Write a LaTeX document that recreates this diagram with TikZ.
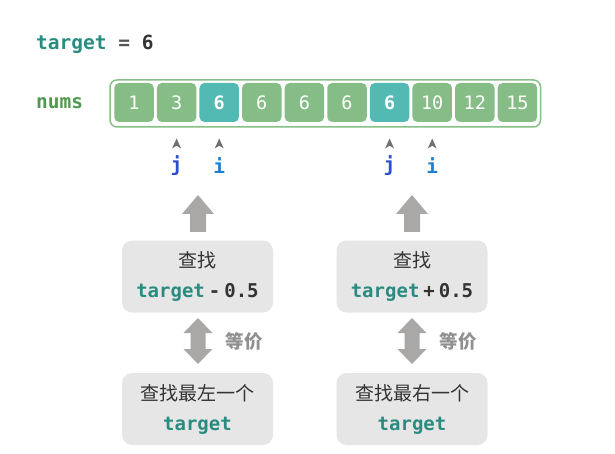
\documentclass[tikz,border=0pt]{standalone}
\usepackage{fontspec}
\setmonofont{DejaVu Sans Mono}
\newfontfamily\cjk{Noto Sans CJK SC}
\usetikzlibrary{arrows.meta,calc}
\definecolor{tealtxt}{HTML}{2A8C80}
\definecolor{greentxt}{HTML}{4E9A4E}
\definecolor{cellgreen}{HTML}{86BD86}
\definecolor{cellteal}{HTML}{52B9B3}
\definecolor{framegreen}{HTML}{86C086}
\definecolor{darktxt}{HTML}{333333}
\definecolor{eqtxt}{HTML}{555555}
\definecolor{boxgray}{HTML}{E6E6E6}
\definecolor{arrowgray}{HTML}{AAA7A7}
\definecolor{headgray}{HTML}{707070}
\definecolor{jblue}{HTML}{2B4FD0}
\definecolor{iblue}{HTML}{1E80D0}
\definecolor{labelgray}{HTML}{909090}
\begin{document}
\begin{tikzpicture}[x=1pt,y=-1pt,
  cellbox/.style={rounded corners=5pt, minimum width=39.5pt, minimum height=39pt, inner sep=0pt, text=white, font=\ttfamily\fontsize{18.5}{20}\selectfont},
  greybox/.style={fill=boxgray, rounded corners=10pt, minimum width=151pt, minimum height=72pt, inner sep=0pt, align=center, text=darktxt, font=\fontsize{19}{30}\selectfont},
  ptrhead/.style={fill=headgray},
  bigarrow/.style={fill=arrowgray},
  ptrlabel/.style={font=\ttfamily\bfseries\fontsize{19.5}{20}\selectfont}
]
\useasboundingbox (0,0) rectangle (615,454);

% target = 6
\node[anchor=west, inner sep=0pt, font=\ttfamily\bfseries\fontsize{19.5}{20}\selectfont] (tgt) at (36,44)
  {\textcolor{tealtxt}{target} \textcolor{eqtxt}{=} \textcolor{darktxt}{6}};
\node[anchor=west, inner sep=0pt, font=\ttfamily\bfseries\fontsize{19.5}{20}\selectfont, text=greentxt] (nums) at (36,103)
  {nums};

% frame
\draw[framegreen, line width=1.5pt, fill=white, rounded corners=7pt] (110,80) rectangle (540.5,127);

% cells
\foreach \v [count=\k] in {1,3,6,6,6,6,6,10,12,15} {
  \ifnum\k=3
    \node[cellbox, fill=cellteal, font=\ttfamily\bfseries\fontsize{18.5}{20}\selectfont] (c\k) at ({134+(\k-1)*42.6},102.5) {\v};
  \else\ifnum\k=7
    \node[cellbox, fill=cellteal, font=\ttfamily\bfseries\fontsize{18.5}{20}\selectfont] (c\k) at ({134+(\k-1)*42.6},102.5) {\v};
  \else
    \node[cellbox, fill=cellgreen] (c\k) at ({134+(\k-1)*42.6},102.5) {\v};
  \fi\fi
}

% pointer heads and labels
\foreach \k/\lab/\col in {2/j/jblue, 3/i/iblue, 7/j/jblue, 8/i/iblue} {
  \path (c\k.center) coordinate (h\k);
  \fill[ptrhead] ($(h\k)+(0,36)$) -- ++(4.5,10) -- ++(-4.5,-2.8) -- ++(-4.5,2.8) -- cycle;
  \node[ptrlabel, text=\col, inner sep=0pt] (l\k) at ($(h\k)+(0,63.5)$) {\lab};
}

% boxes
\node[greybox] (b1) at (197.5,276.5) {{\cjk 查找}\\
  {\ttfamily\bfseries\textcolor{tealtxt}{target}\hspace{4pt}\textcolor{darktxt}{-\hspace{4pt}0.5}}};
\node[greybox] (b2) at (197.5,409) {{\cjk 查找最左一个}\\
  {\ttfamily\bfseries\textcolor{tealtxt}{target}}};
\node[greybox] (b3) at (412,276.5) {{\cjk 查找}\\
  {\ttfamily\bfseries\textcolor{tealtxt}{target}\hspace{4pt}\textcolor{darktxt}{+\hspace{4pt}0.5}}};
\node[greybox] (b4) at (412,409) {{\cjk 查找最右一个}\\
  {\ttfamily\bfseries\textcolor{tealtxt}{target}}};

% big arrows
\foreach \cx in {198,412} {
  \fill[bigarrow] (\cx,195) -- (\cx+16,214) -- (\cx+8,214) -- (\cx+8,232) -- (\cx-8,232) -- (\cx-8,214) -- (\cx-16,214) -- cycle;
  \fill[bigarrow] (\cx,318) -- (\cx+14.5,333) -- (\cx+7.5,333) -- (\cx+7.5,349) -- (\cx+14.5,349) -- (\cx,364)
     -- (\cx-14.5,349) -- (\cx-7.5,349) -- (\cx-7.5,333) -- (\cx-14.5,333) -- cycle;
}
\node[font=\cjk\bfseries\fontsize{18.5}{20}\selectfont, text=labelgray, inner sep=0pt] (eq1) at (244,341) {等价};
\node[font=\cjk\bfseries\fontsize{18.5}{20}\selectfont, text=labelgray, inner sep=0pt] (eq2) at (458,341) {等价};
\end{tikzpicture}
\end{document}
